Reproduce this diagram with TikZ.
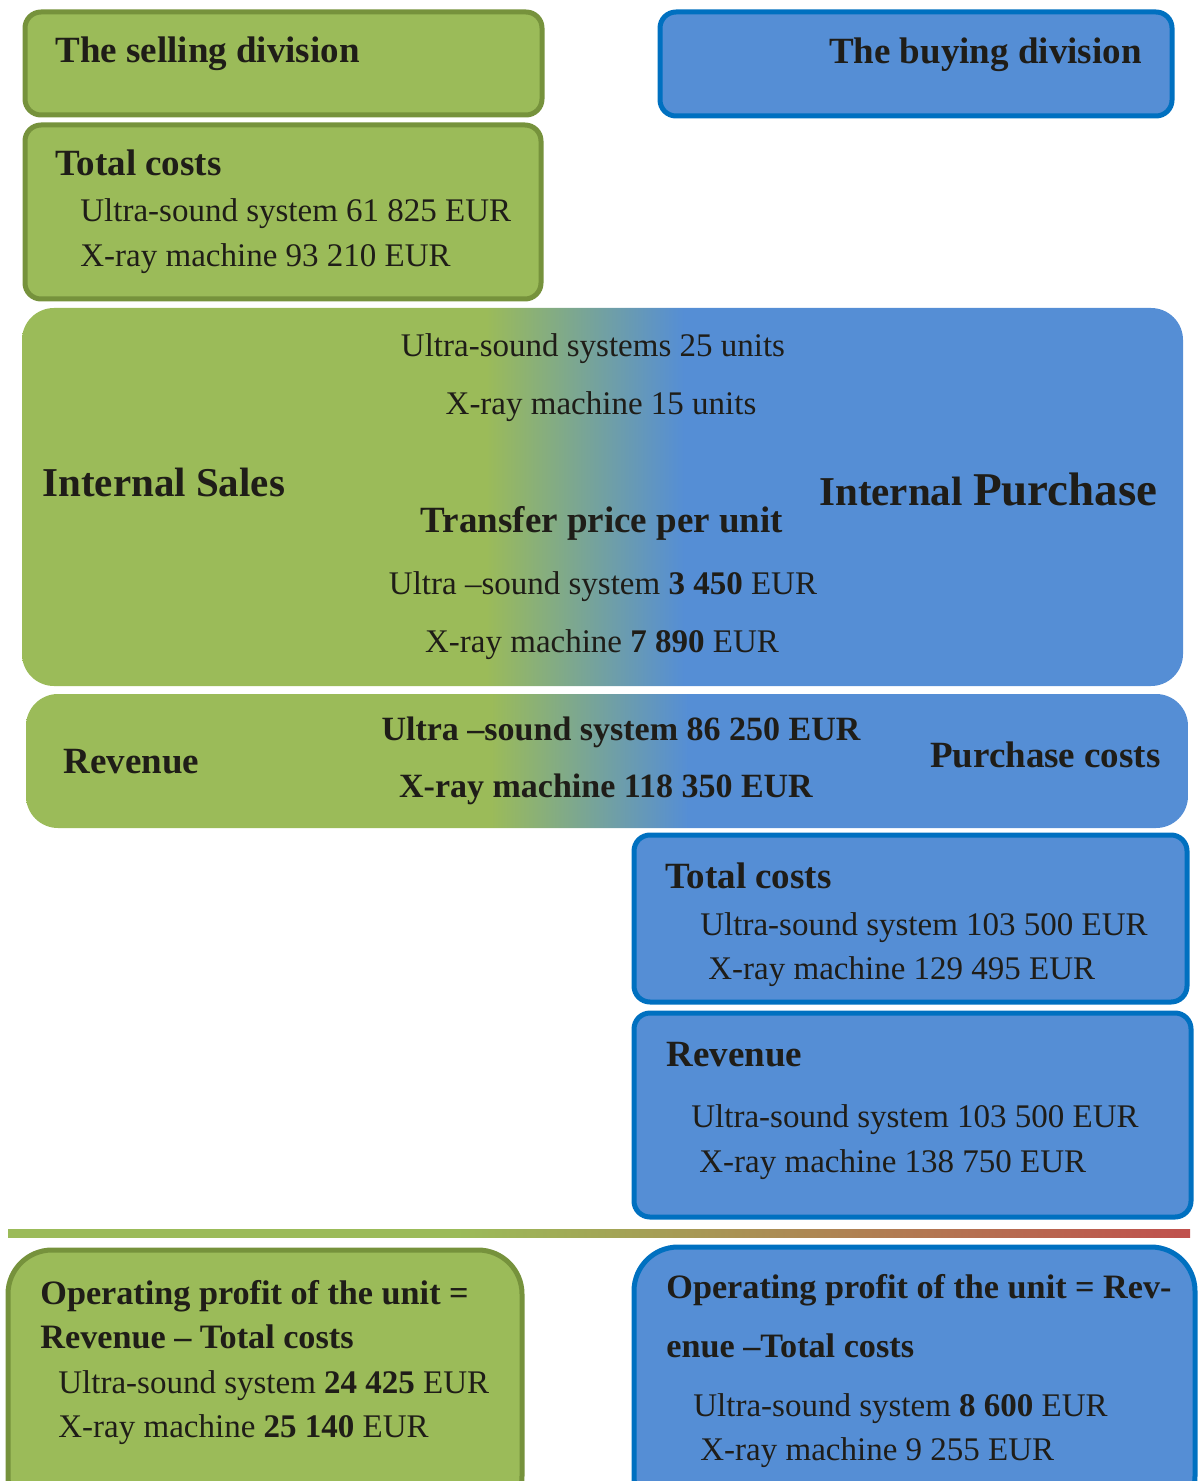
\documentclass[tikz,border=0pt]{standalone}
\usepackage{fontspec}
\setmainfont{Liberation Serif}
\definecolor{sellgreen}{HTML}{9BBB59}
\definecolor{sellolive}{HTML}{76923C}
\definecolor{buyblue}{HTML}{558ED5}
\definecolor{buyedge}{HTML}{0070C0}
\definecolor{lossred}{HTML}{C0504D}
\definecolor{inkblack}{HTML}{1F1D18}
\pgfdeclarehorizontalshading{sellbuy}{100bp}{color(0bp)=(sellgreen); color(45bp)=(sellgreen); color(53.5bp)=(buyblue); color(100bp)=(buyblue)}
\pgfdeclarehorizontalshading{greenred}{100bp}{color(0bp)=(sellgreen); color(44bp)=(sellgreen); color(75bp)=(lossred); color(100bp)=(lossred)}
\tikzset{
  lbl/.style={anchor=base west, inner sep=0pt, text=inkblack, font=\fontsize{16.5}{20}\selectfont},
  hdr/.style={lbl, font=\fontsize{18.5}{22}\selectfont\bfseries},
  big/.style={lbl, font=\fontsize{20.5}{24}\selectfont\bfseries},
  ophdr/.style={lbl, font=\fontsize{17.1}{21}\selectfont\bfseries},
  sellbox/.style={draw=sellolive, fill=sellgreen, line width=2.5pt, rounded corners=8pt},
  buybox/.style={draw=buyedge, fill=buyblue, line width=2.5pt, rounded corners=8pt},
  bandbox/.style={shading=sellbuy, rounded corners=16pt}
}
\begin{document}
\begin{tikzpicture}[x=0.5pt, y=-0.5pt]
\clip (0,0) rectangle (1200,1481);
% boxes
\draw[sellbox] (25,12) rectangle (542,115);
\draw[buybox] (660,12) rectangle (1172,116);
\draw[sellbox] (25,125) rectangle (541,299);
\shade[bandbox] (22,308) rectangle (1183,686);
\shade[bandbox] (26,694) rectangle (1188,828);
\draw[buybox] (634,835) rectangle (1187,1002);
\draw[buybox] (634,1013) rectangle (1191,1217);
\shade[shading=greenred] (8,1229) rectangle (1190,1237);
\draw[sellbox, rounded corners=22pt] (8,1250) rectangle (522,1520);
\draw[buybox, rounded corners=22pt] (634,1247) rectangle (1195,1520);

% headings
\node[hdr] (sellhead) at (55,63) {The selling division};
\node[hdr, anchor=base east] (buyhead) at (1142,64) {The buying division};

% selling division costs
\node[hdr] (selltc) at (55,176) {Total costs};
\node[lbl] (selltcus) at (80,222) {Ultra-sound system 61 825 EUR};
\node[lbl] (selltcxr) at (80,267) {X-ray machine 93 210 EUR};

% internal transfer
\node[lbl, anchor=base] (qtyus) at (593,357) {Ultra-sound systems 25 units};
\node[lbl, anchor=base] (qtyxr) at (601,414) {X-ray machine 15 units};
\node[big] (intsales) at (42,496) {Internal Sales};
\node[big, anchor=base east] (intpurch) at (1158,505) {Internal {\fontsize{23.5}{28}\selectfont Purchase}};
\node[hdr, anchor=base] (tpunit) at (602,532) {Transfer price per unit};
\node[lbl, anchor=base] (tpus) at (603,594) {Ultra –sound system \textbf{3 450} EUR};
\node[lbl, anchor=base] (tpxr) at (602,652) {X-ray machine \textbf{7 890} EUR};

% revenue / purchase costs
\node[hdr] (sellrev) at (63,773) {Revenue};
\node[hdr, anchor=base, font=\fontsize{17}{20}\selectfont\bfseries] (revus) at (621,740) {Ultra –sound system 86 250 EUR};
\node[hdr, anchor=base, font=\fontsize{17}{20}\selectfont\bfseries] (revxr) at (606,797) {X-ray machine 118 350 EUR};
\node[hdr, anchor=base east] (purchcost) at (1161,767) {Purchase costs};

% buying division
\node[hdr] (buytc) at (665,888) {Total costs};
\node[lbl] (buytcus) at (700,935) {Ultra-sound system 103 500 EUR};
\node[lbl] (buytcxr) at (708,979) {X-ray machine 129 495 EUR};
\node[hdr] (buyrev) at (666,1066) {Revenue};
\node[lbl] (buyrevus) at (691,1127) {Ultra-sound system 103 500 EUR};
\node[lbl] (buyrevxr) at (699,1172) {X-ray machine 138 750 EUR};

% operating profit
\node[ophdr] (sellop) at (40,1304) {Operating profit of the unit =};
\node[ophdr] (sellopb) at (40,1348) {Revenue – Total costs};
\node[lbl] (sellopus) at (58,1393) {Ultra-sound system \textbf{24 425} EUR};
\node[lbl] (sellopxr) at (58,1437) {X-ray machine \textbf{25 140} EUR};
\node[ophdr] (buyop) at (666,1298) {Operating profit of the unit = Rev-};
\node[ophdr] (buyopb) at (666,1357) {enue –Total costs};
\node[lbl] (buyopus) at (693,1416) {Ultra-sound system \textbf{8 600} EUR};
\node[lbl] (buyopxr) at (700,1460) {X-ray machine 9 255 EUR};
\end{tikzpicture}
\end{document}
